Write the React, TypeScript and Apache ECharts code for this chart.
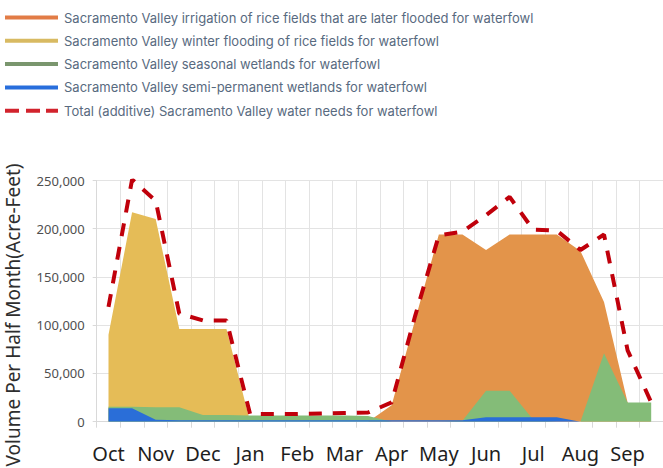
import React, { useEffect, useRef } from "react";
import * as echarts from "echarts";

const halfMonths = [
  "Oct-1", "Oct-2", "Nov-1", "Nov-2", "Dec-1", "Dec-2", "Jan-1", "Jan-2",
  "Feb-1", "Feb-2", "Mar-1", "Mar-2", "Apr-1", "Apr-2", "May-1", "May-2",
  "Jun-1", "Jun-2", "Jul-1", "Jul-2", "Aug-1", "Aug-2", "Sep-1", "Sep-2",
];
const monthLabels = ["Oct", "Nov", "Dec", "Jan", "Feb", "Mar", "Apr", "May", "Jun", "Jul", "Aug", "Sep"];

const riceIrrigation = [
  0, 0, 0, 0, 0, 0, 0, 0, 0, 0, 0, 0,
  17000, 106000, 194000, 194000, 178000, 194000, 194000, 194000, 177000, 124000, 20000, 0,
];
const riceWinterFlooding = [
  90000, 217000, 210000, 96000, 96000, 96000, 0, 0, 0, 0, 0, 0,
  0, 0, 0, 0, 0, 0, 0, 0, 0, 0, 0, 0,
];
const seasonalWetlands = [
  15500, 15500, 15000, 15000, 7000, 7000, 6500, 6500, 6500, 6500, 6500, 6000,
  0, 0, 0, 1000, 32000, 32000, 2000, 0, 0, 71000, 20000, 20000,
];
const semiPermanentWetlands = [
  14000, 14000, 2000, 1500, 1500, 1500, 1500, 1500, 1500, 1500, 1500, 1500,
  1500, 1500, 1500, 1500, 4500, 4500, 4500, 4500, 0, 0, 0, 0,
];
const totalNeeds = [
  119000, 251000, 229000, 112000, 105000, 105000, 8000, 8000, 8000, 8500, 9000, 9500,
  20000, 110000, 193000, 197000, 214000, 233000, 199000, 198000, 178000, 194000, 74000, 20000,
];

const yTicks = { min: 0, max: 250000, interval: 50000 };

const names = [
  "Sacramento Valley irrigation of rice fields that are later flooded for waterfowl",
  "Sacramento Valley winter flooding of rice fields for waterfowl",
  "Sacramento Valley seasonal wetlands for waterfowl",
  "Sacramento Valley semi-permanent wetlands for waterfowl",
  "Total (additive) Sacramento Valley water needs for waterfowl",
];
const areaColors = ["#E3944A", "#E5BC57", "#84BC78", "#2A6ED8"];
const legendColors = ["#E27C46", "#D8BA62", "#7A966E", "#286EDC", "#D2232D"];
const totalColor = "#C0000B";

export default function App() {
  const ref = useRef<HTMLDivElement>(null);
  useEffect(() => {
    if (!ref.current) return;
    const chart = echarts.init(ref.current, null, { renderer: "svg" });
    const areaData = [riceIrrigation, riceWinterFlooding, seasonalWetlands, semiPermanentWetlands];
    const areaSeries = areaData.map((d, i) => ({
      name: names[i],
      type: "line",
      data: d,
      symbol: "none",
      lineStyle: { width: 0, color: areaColors[i] },
      itemStyle: { color: areaColors[i] },
      areaStyle: { color: areaColors[i], opacity: 1 },
      z: 2 + i,
    }));
    chart.setOption({
      animation: false,
      legend: {
        orient: "vertical",
        left: 5,
        top: 11,
        padding: 0,
        itemGap: 10.3,
        itemWidth: 53,
        itemHeight: 4,
        selectedMode: false,
        textStyle: { color: "#586A80", fontSize: 13, fontFamily: "Inter", padding: [0, 0, 0, 1] },
        data: names.map((n, i) => ({
          name: n,
          icon: i === 4 ? "path://M0,0H14V4H0Z M21,0H35V4H21Z M41,0H53V4H41Z" : "rect",
          itemStyle: { color: legendColors[i] },
        })),
      },
      grid: { left: 96.7, top: 180.5, width: 569.7, height: 241.2 },
      xAxis: {
        type: "category",
        data: halfMonths,
        boundaryGap: true,
        axisLine: { show: true, lineStyle: { color: "#D9D9D9" } },
        axisTick: { show: true, interval: 0, length: 6, lineStyle: { color: "#D9D9D9" } },
        splitLine: { show: true, interval: 0, lineStyle: { color: "#E3E3E3" } },
        axisLabel: {
          interval: 0,
          margin: 22,
          color: "#1E1E1E",
          fontSize: 20,
          fontFamily: "Noto Sans",
          formatter: (_v: string, i: number) => (i % 2 === 0 ? monthLabels[i / 2] : ""),
        },
      },
      yAxis: {
        type: "value",
        min: yTicks.min,
        max: yTicks.max,
        interval: yTicks.interval,
        axisLine: { show: true, lineStyle: { color: "#D9D9D9" } },
        axisTick: { show: true, length: 4, lineStyle: { color: "#D9D9D9" } },
        splitLine: { show: true, lineStyle: { color: "#E3E3E3" } },
        axisLabel: {
          margin: 12,
          color: "#4F4F4F",
          fontSize: 13,
          fontFamily: "Noto Sans",
          formatter: (v: number) => v.toLocaleString("en-US"),
        },
      },
      graphic: [
        {
          type: "text",
          x: 13,
          y: 315,
          rotation: Math.PI / 2,
          style: {
            text: "Volume Per Half Month(Acre-Feet)",
            fill: "#2E2E2E",
            font: "19px 'Noto Sans'",
            align: "center",
            verticalAlign: "middle",
          },
        },
      ],
      series: [
        ...areaSeries,
        {
          name: names[4],
          type: "line",
          data: totalNeeds,
          symbol: "none",
          itemStyle: { color: totalColor },
          lineStyle: { width: 4, color: totalColor, type: [13, 11], cap: "butt" },
          z: 10,
        },
      ],
    });
    return () => chart.dispose();
  }, []);
  return (
    <div
      ref={ref}
      style={{ position: "fixed", left: 0, top: 0, width: 663, height: 468, background: "#fff" }}
    />
  );
}
